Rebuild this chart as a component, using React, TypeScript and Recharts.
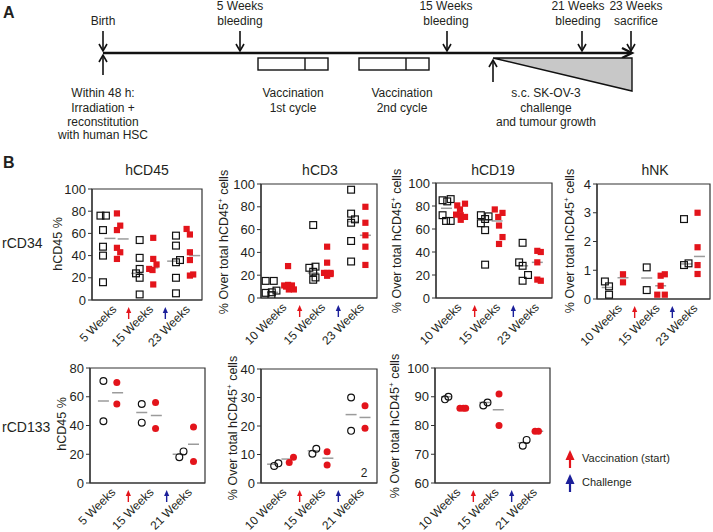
import React from 'react';
import { ScatterChart, Scatter, XAxis, YAxis, ReferenceArea } from 'recharts';

const FONT = '"Liberation Sans", Arial, sans-serif';
const RED = '#e3141b';
const BLUE = '#1b1f9a';
const GREY = '#9b9b9b';
const INK = '#231f20';

// tick labels
const weeksA = ['5 Weeks', '15 Weeks', '23 Weeks'];
const weeksB = ['10 Weeks', '15 Weeks', '23 Weeks'];
const weeksC = ['5 Weeks', '15 Weeks', '21 Weeks'];
const weeksD = ['10 Weeks', '15 Weeks', '21 Weeks'];

// [x, value] pairs; x is group slot (0-3), value in axis units
const cd34Cd45Black = [
    [0.23, 76], [0.38, 76], [0.3, 63], [0.3, 48], [0.3, 40], [0.3, 16],
    [1.3, 54], [1.3, 38], [1.3, 28], [1.2, 24], [1.3, 20], [1.3, 5],
    [2.29, 58], [2.29, 49], [2.29, 34], [2.4, 36], [2.29, 20], [2.29, 6],
];
const cd34Cd45Red = [
    [0.68, 78], [0.77, 67], [0.68, 63], [0.68, 47], [0.77, 43], [0.68, 37],
    [1.67, 56], [1.67, 37], [1.76, 32], [1.56, 28], [1.65, 27], [1.67, 14],
    [2.58, 64], [2.67, 59], [2.67, 43], [2.67, 36], [2.67, 22], [2.76, 23],
];
const cd34Cd45Mean = [[0.49, 55.5], [0.85, 55], [1.22, 24], [1.66, 29], [2.2, 35], [2.8, 40]];

const cd34Cd3Black = [
    [0.12, 15], [0.33, 15], [0.4, 6.5], [0.12, 4.5], [0.27, 2.5], [0.28, 5],
    [1.35, 64], [1.25, 26.5], [1.41, 27.5], [1.35, 23], [1.41, 18], [1.35, 16],
    [2.33, 95], [2.33, 74], [2.43, 69], [2.33, 66], [2.33, 50], [2.33, 32],
];
const cd34Cd3Red = [
    [0.7, 28], [0.6, 11], [0.7, 11.5], [0.8, 11], [0.65, 10], [0.72, 7.5], [0.85, 7.5],
    [1.71, 45], [1.71, 31], [1.63, 22], [1.71, 22], [1.8, 22], [1.71, 19.5], [1.8, 21],
    [2.7, 80], [2.7, 66], [2.7, 55], [2.7, 45], [2.7, 29],
];
const cd34Cd3Mean = [[0.3, 5], [0.68, 10], [1.35, 22], [1.7, 21], [2.38, 67], [2.7, 55]];

const cd34Cd19Black = [
    [0.17, 85], [0.29, 84], [0.38, 86], [0.17, 72], [0.26, 67], [0.38, 67],
    [1.16, 72], [1.36, 71], [1.27, 68.7], [1.16, 65], [1.27, 59], [1.27, 29],
    [2.24, 48], [2.15, 31], [2.24, 28], [2.38, 20], [2.24, 15],
];
const cd34Cd19Red = [
    [0.55, 80.5], [0.75, 82], [0.62, 77], [0.52, 72.5], [0.75, 70.5], [0.64, 68], [0.64, 72],
    [1.52, 77], [1.72, 74], [1.61, 70.5], [1.63, 63], [1.72, 53], [1.63, 47],
    [2.62, 41], [2.71, 40], [2.62, 31], [2.62, 16], [2.71, 15],
];
const cd34Cd19Mean = [[0.27, 78], [0.64, 72], [1.27, 68], [1.58, 67], [2.24, 28], [2.62, 31]];

const cd34NkBlack = [
    [0.21, 0.61], [0.32, 0.44], [0.32, 0.15],
    [1.32, 1.1], [1.32, 0.31],
    [2.31, 2.78], [2.31, 1.18], [2.43, 1.24],
];
const cd34NkRed = [
    [0.69, 0.86], [0.69, 0.58],
    [1.69, 0.81], [1.8, 0.86], [1.69, 0.46], [1.6, 0.15], [1.8, 0.15],
    [2.67, 3.0], [2.67, 1.8], [2.67, 1.18], [2.67, 0.87],
];
const cd34NkMean = [[0.27, 0.4], [0.69, 0.74], [1.32, 0.73], [1.69, 0.46], [2.38, 1.22], [2.72, 1.48]];

const cd133Cd45Black = [[0.35, 71], [0.35, 43], [1.35, 55], [1.35, 42], [2.33, 18], [2.44, 22]];
const cd133Cd45Red = [[0.7, 70], [0.7, 55], [1.71, 56], [1.71, 38], [2.7, 39], [2.7, 15]];
const cd133Cd45Mean = [[0.35, 57], [0.72, 62.8], [1.35, 49], [1.73, 47], [2.3, 20], [2.7, 27]];

const cd133Cd3Black = [[0.34, 6], [0.45, 6.9], [1.33, 10.3], [1.43, 12], [2.33, 30], [2.33, 18.3]];
const cd133Cd3Red = [[0.73, 7.2], [0.84, 9], [1.71, 11], [1.71, 6.3], [2.69, 27.1], [2.69, 19.2]];
const cd133Cd3Mean = [[0.3, 6.6], [0.67, 8.4], [1.35, 11.3], [1.73, 8.7], [2.33, 24], [2.69, 23]];

const cd133Cd19Black = [[0.26, 89.1], [0.35, 90], [1.26, 87], [1.37, 88], [2.29, 73], [2.39, 75]];
const cd133Cd19Red = [[0.65, 86], [0.74, 86], [0.8, 86], [1.67, 91], [1.67, 80], [2.61, 78], [2.7, 78]];
const cd133Cd19Mean = [[0.3, 90], [0.72, 86], [1.3, 88], [1.65, 85.5], [2.3, 74], [2.68, 78]];

const toPts = (arr: number[][]) => arr.map(([x, y]) => ({ x, y }));

const Y_W = 30;
const TOP_PAD = 6;
const X_H = 50;

function XTick(props: any) {
    const { x, y, payload, labels } = props;
    const v = payload.value;
    if (v === 1 || v === 2) {
        const c = v === 1 ? RED : BLUE;
        return (
            <g>
                <line x1={x} x2={x} y1={y + 9} y2={y + 17} stroke={c} strokeWidth={1.4} />
                <polygon points={`${x},${y + 5} ${x - 2.6},${y + 11} ${x + 2.6},${y + 11}`} fill={c} />
            </g>
        );
    }
    const label = labels[Math.floor(v)];
    return (
        <text
            x={x + 7}
            y={y + 8}
            transform={`rotate(-45, ${x + 7}, ${y + 8})`}
            textAnchor="end"
            fontSize={12}
            fontFamily={FONT}
            fill={INK}
        >
            {label}
        </text>
    );
}

const square = (open: boolean) => (p: any) =>
    open ? (
        <rect x={p.cx - 3.4} y={p.cy - 3.4} width={6.8} height={6.8} fill="#fff" fillOpacity={0} stroke="#111" strokeWidth={1.2} />
    ) : (
        <rect x={p.cx - 3.1} y={p.cy - 3.1} width={6.2} height={6.2} fill={RED} />
    );

const circle = (open: boolean) => (p: any) =>
    open ? (
        <circle cx={p.cx} cy={p.cy} r={3.4} fill="none" stroke="#111" strokeWidth={1.2} />
    ) : (
        <circle cx={p.cx} cy={p.cy} r={3.5} fill={RED} />
    );

const meanMark = (p: any) => (
    <line x1={p.cx - 5.5} x2={p.cx + 5.5} y1={p.cy} y2={p.cy} stroke={GREY} strokeWidth={1.5} />
);

interface PanelProps {
    left: number;
    top: number;
    w: number;
    h: number;
    domain: [number, number];
    ticks: number[];
    labels: string[];
    black: number[][];
    red: number[][];
    mean: number[][];
    marker: 'square' | 'circle';
}

function Panel({ left, top, w, h, domain, ticks, labels, black, red, mean, marker }: PanelProps) {
    const shape = marker === 'square' ? square : circle;
    return (
        <div style={{ position: 'absolute', left: left - Y_W, top: top - TOP_PAD }}>
            <ScatterChart
                width={Y_W + w + 3}
                height={TOP_PAD + h + X_H}
                margin={{ top: TOP_PAD, right: 3, left: 0, bottom: 0 }}
                style={{ overflow: 'visible' }}
            >
                <XAxis
                    type="number"
                    dataKey="x"
                    domain={[0, 3]}
                    ticks={[0.5, 1, 1.5, 2, 2.5]}
                    interval={0}
                    height={X_H}
                    tickSize={0}
                    tickLine={false}
                    axisLine={{ stroke: '#333', strokeWidth: 1.2 }}
                    tick={(tp: any) => <XTick {...tp} labels={labels} />}
                />
                <YAxis
                    type="number"
                    dataKey="y"
                    domain={domain}
                    ticks={ticks}
                    interval={0}
                    width={Y_W}
                    tickSize={4}
                    tickMargin={2}
                    axisLine={{ stroke: '#333', strokeWidth: 1.2 }}
                    tickLine={{ stroke: '#333' }}
                    tick={{ fontSize: 13, fontFamily: FONT, fill: INK }}
                    allowDataOverflow
                />
                <ReferenceArea
                    x1={0}
                    x2={3}
                    y1={domain[0]}
                    y2={domain[1]}
                    fill="none"
                    stroke="#333"
                    strokeWidth={1.2}
                />
                <Scatter data={toPts(mean)} shape={meanMark} isAnimationActive={false} />
                <Scatter data={toPts(black)} shape={shape(true)} isAnimationActive={false} />
                <Scatter data={toPts(red)} shape={shape(false)} isAnimationActive={false} />
            </ScatterChart>
        </div>
    );
}

const txt = { fontFamily: FONT, fill: INK } as const;

function YLabel({ x, y, hcd }: { x: number; y: number; hcd?: boolean }) {
    return (
        <text x={x} y={y} transform={`rotate(-90, ${x}, ${y})`} textAnchor="middle" fontSize={12.5} {...txt}>
            {hcd ? (
                <>
                    % Over total hCD45<tspan fontSize={8} dy={-5}>+</tspan>
                    <tspan dy={5}> cells</tspan>
                </>
            ) : (
                'hCD45 %'
            )}
        </text>
    );
}

function Overlay() {
    const downArrow = (x: number) => (
        <g key={x}>
            <line x1={x} x2={x} y1={31} y2={51} stroke="#111" strokeWidth={1.6} />
            <polyline points={`${x - 4},${44} ${x},${51} ${x + 4},${44}`} fill="none" stroke="#111" strokeWidth={1.6} />
        </g>
    );
    const upArrow = (x: number, y1: number, y2: number) => (
        <g>
            <line x1={x} x2={x} y1={y1} y2={y2} stroke="#111" strokeWidth={1.6} />
            <polyline points={`${x - 4},${y2 + 7} ${x},${y2} ${x + 4},${y2 + 7}`} fill="none" stroke="#111" strokeWidth={1.6} />
        </g>
    );
    const mid = { textAnchor: 'middle' as const, fontSize: 12, ...txt };
    return (
        <svg width={713} height={532} style={{ position: 'absolute', left: 0, top: 0, pointerEvents: 'none' }}>
            {/* panel A: timeline */}
            <text x={3} y={18} fontSize={16} fontWeight="bold" {...txt}>A</text>
            <line x1={103} x2={630} y1={53} y2={53} stroke="#111" strokeWidth={2.4} />
            <polyline points="622,48 632,53 622,58" fill="none" stroke="#111" strokeWidth={2.4} />
            {[103, 240, 447, 582, 631].map(downArrow)}
            {upArrow(103, 75, 55)}
            {upArrow(493, 82, 60)}
            <rect x={258} y={58} width={70} height={12} fill="none" stroke="#111" strokeWidth={1.4} />
            <line x1={305} x2={305} y1={58} y2={70} stroke="#111" strokeWidth={1.4} />
            <rect x={359} y={58} width={70} height={12} fill="none" stroke="#111" strokeWidth={1.4} />
            <line x1={406} x2={406} y1={58} y2={70} stroke="#111" strokeWidth={1.4} />
            <polygon points="493,58 632,58 632,91" fill="#c8c8c8" stroke="#111" strokeWidth={1.4} />
            <text x={103} y={25} {...mid}>Birth</text>
            <text x={240} y={10} {...mid}>5 Weeks</text>
            <text x={240} y={25} {...mid}>bleeding</text>
            <text x={446} y={10} {...mid}>15 Weeks</text>
            <text x={446} y={25} {...mid}>bleeding</text>
            <text x={578} y={10} {...mid}>21 Weeks</text>
            <text x={578} y={25} {...mid}>bleeding</text>
            <text x={636} y={10} {...mid}>23 Weeks</text>
            <text x={636} y={25} {...mid}>sacrifice</text>
            <text x={103} y={97} {...mid}>Within 48 h:</text>
            <text x={103} y={112} {...mid}>Irradiation +</text>
            <text x={103} y={126} {...mid}>reconstitution</text>
            <text x={103} y={139} {...mid}>with human HSC</text>
            <text x={293} y={97} {...mid}>Vaccination</text>
            <text x={293} y={112} {...mid}>1st cycle</text>
            <text x={402} y={97} {...mid}>Vaccination</text>
            <text x={402} y={112} {...mid}>2nd cycle</text>
            <text x={546} y={97} {...mid}>s.c. SK-OV-3</text>
            <text x={546} y={112} {...mid}>challenge</text>
            <text x={546} y={126} {...mid}>and tumour growth</text>

            {/* panel B labels */}
            <text x={3} y={168} fontSize={16} fontWeight="bold" {...txt}>B</text>
            <text x={147} y={175} {...mid} fontSize={14}>hCD45</text>
            <text x={320} y={175} {...mid} fontSize={14}>hCD3</text>
            <text x={493} y={175} {...mid} fontSize={14}>hCD19</text>
            <text x={655} y={175} {...mid} fontSize={14}>hNK</text>
            <text x={2} y={248} fontSize={14} {...txt}>rCD34</text>
            <text x={2} y={432} fontSize={14} {...txt}>rCD133</text>
            <YLabel x={62} y={244} />
            <YLabel x={228} y={242} hcd />
            <YLabel x={401} y={241} hcd />
            <YLabel x={574} y={241} hcd />
            <YLabel x={66} y={424} />
            <YLabel x={237} y={428} hcd />
            <YLabel x={399} y={426} hcd />
            <text x={364} y={477} {...mid} fontSize={12}>2</text>

            {/* legend */}
            <line x1={570} x2={570} y1={458} y2={468} stroke={RED} strokeWidth={2.2} />
            <polygon points="570,450 565.5,460 574.5,460" fill={RED} />
            <text x={582} y={462} fontSize={11} {...txt}>Vaccination (start)</text>
            <line x1={570} x2={570} y1={482} y2={492} stroke={BLUE} strokeWidth={2.2} />
            <polygon points="570,474 565.5,484 574.5,484" fill={BLUE} />
            <text x={582} y={486} fontSize={11} {...txt}>Challenge</text>
        </svg>
    );
}

export default function App() {
    return (
        <div style={{ position: 'absolute', left: 0, top: 0, width: 713, height: 532, background: '#fff', fontFamily: FONT }}>
            <Panel left={92} top={189} w={110} h={111} domain={[0, 100]} ticks={[0, 20, 40, 60, 80, 100]}
                labels={weeksA} black={cd34Cd45Black} red={cd34Cd45Red} mean={cd34Cd45Mean} marker="square" />
            <Panel left={261} top={184} w={116} h={114} domain={[0, 100]} ticks={[0, 20, 40, 60, 80, 100]}
                labels={weeksB} black={cd34Cd3Black} red={cd34Cd3Red} mean={cd34Cd3Mean} marker="square" />
            <Panel left={436} top={183} w={116} h={115} domain={[0, 100]} ticks={[0, 20, 40, 60, 80, 100]}
                labels={weeksB} black={cd34Cd19Black} red={cd34Cd19Red} mean={cd34Cd19Mean} marker="square" />
            <Panel left={597} top={184} w={113} h={115} domain={[0, 4]} ticks={[0, 1, 2, 3, 4]}
                labels={weeksB} black={cd34NkBlack} red={cd34NkRed} mean={cd34NkMean} marker="square" />
            <Panel left={90} top={368} w={115} h={115} domain={[0, 80]} ticks={[0, 20, 40, 60, 80]}
                labels={weeksC} black={cd133Cd45Black} red={cd133Cd45Red} mean={cd133Cd45Mean} marker="circle" />
            <Panel left={261} top={369} w={116} h={114} domain={[0, 40]} ticks={[0, 10, 20, 30, 40]}
                labels={weeksD} black={cd133Cd3Black} red={cd133Cd3Red} mean={cd133Cd3Mean} marker="circle" />
            <Panel left={435} top={368} w={115} h={115} domain={[60, 100]} ticks={[60, 70, 80, 90, 100]}
                labels={weeksD} black={cd133Cd19Black} red={cd133Cd19Red} mean={cd133Cd19Mean} marker="circle" />
            <Overlay />
        </div>
    );
}
